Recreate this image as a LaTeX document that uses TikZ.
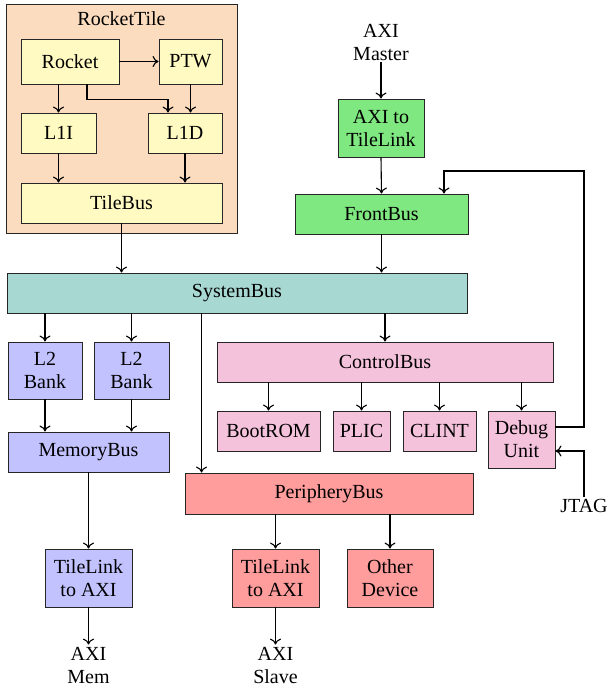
\documentclass[tikz,border=0pt]{standalone}
\usepackage{fontspec}
\setmainfont{Liberation Serif}
\usetikzlibrary{arrows.meta}
\definecolor{tilefill}{HTML}{FCDCBE}
\definecolor{corefill}{HTML}{FFF9C2}
\definecolor{frontfill}{HTML}{80E880}
\definecolor{sysfill}{HTML}{A8D8D2}
\definecolor{memfill}{HTML}{C2C2FF}
\definecolor{ctrlfill}{HTML}{F5C2DC}
\definecolor{perfill}{HTML}{FF9C9C}
\tikzset{
  blk/.style={draw=black!85, line width=0.9pt, inner sep=0pt, align=center,
    font=\fontsize{20}{23}\selectfont},
  lbl/.style={inner sep=2pt, align=center, font=\fontsize{20}{23}\selectfont},
  arr/.style={line width=1.1pt, -{To[length=6pt,width=11pt,line width=1.1pt]}},
}
\begin{document}
\begin{tikzpicture}[x=1pt,y=-1pt]
\useasboundingbox (0,0) rectangle (608,688);

% Rocket tile
\node[blk, fill=tilefill, minimum width=231, minimum height=229] (tile) at (121.5,118.5) {};
\node[lbl] (tiletitle) at (121.5,19) {RocketTile};
\node[blk, fill=corefill, minimum width=98, minimum height=45] (rocket) at (70,61.5) {Rocket};
\node[blk, fill=corefill, minimum width=63, minimum height=45] (ptw) at (190.5,61.5) {PTW};
\node[blk, fill=corefill, minimum width=75, minimum height=40] (l1i) at (58.5,133) {L1I};
\node[blk, fill=corefill, minimum width=74, minimum height=40] (l1d) at (185,133) {L1D};
\node[blk, fill=corefill, minimum width=201, minimum height=40] (tilebus) at (121.5,203) {TileBus};

% Front port
\node[lbl] (axim) at (381,42) {AXI\\Master};
\node[blk, fill=frontfill, minimum width=86, minimum height=58] (axi2tl) at (381,128) {AXI to\\TileLink};
\node[blk, fill=frontfill, minimum width=173, minimum height=40] (frontbus) at (381.5,214) {FrontBus};

% System bus
\node[blk, fill=sysfill, minimum width=460, minimum height=40] (sysbus) at (237,293) {SystemBus};

% Memory side
\node[blk, fill=memfill, minimum width=74, minimum height=57] (l2a) at (45,370.5) {L2\\Bank};
\node[blk, fill=memfill, minimum width=75, minimum height=57] (l2b) at (131.5,370.5) {L2\\Bank};
\node[blk, fill=memfill, minimum width=161, minimum height=40] (membus) at (88.5,452) {MemoryBus};
\node[blk, fill=memfill, minimum width=87, minimum height=58] (tl2axim) at (88.5,578) {TileLink\\to AXI};
\node[lbl] (aximem) at (88.5,665) {AXI\\Mem};

% Control bus
\node[blk, fill=ctrlfill, minimum width=336, minimum height=40] (ctrlbus) at (385,362) {ControlBus};
\node[blk, fill=ctrlfill, minimum width=103, minimum height=40] (bootrom) at (268.5,431) {BootROM};
\node[blk, fill=ctrlfill, minimum width=57, minimum height=40] (plic) at (361.5,431) {PLIC};
\node[blk, fill=ctrlfill, minimum width=73, minimum height=40] (clint) at (439.5,431) {CLINT};
\node[blk, fill=ctrlfill, minimum width=67, minimum height=57] (debug) at (521.5,439.5) {Debug\\Unit};
\node[lbl] (jtag) at (584,506) {JTAG};

% Periphery bus
\node[blk, fill=perfill, minimum width=288, minimum height=41] (perbus) at (329,493.5) {PeripheryBus};
\node[blk, fill=perfill, minimum width=87, minimum height=58] (tl2axis) at (275.5,578) {TileLink\\to AXI};
\node[blk, fill=perfill, minimum width=86, minimum height=58] (other) at (390,578) {Other\\Device};
\node[lbl] (axislave) at (275.5,665) {AXI\\Slave};

% Connections inside the tile
\draw[arr] (rocket.east) -- (ptw.west);
\draw[arr] (rocket.south -| l1i.north) -- (l1i.north);
\draw[arr] ([xshift=17pt]rocket.south) -- ++(0,15) -| ([xshift=-17pt]l1d.north);
\draw[arr] (ptw.south) -- (ptw.south |- l1d.north);
\draw[arr] (l1i.south) -- (l1i.south |- tilebus.north);
\draw[arr] (l1d.south) -- (l1d.south |- tilebus.north);

% Into the system bus
\draw[arr] (tilebus.south) -- (tilebus.south |- sysbus.north);
\draw[arr] (axim.south) -- (axi2tl.north);
\draw[arr] (axi2tl.south) -- (frontbus.north);
\draw[arr] (frontbus.south) -- (frontbus.south |- sysbus.north);

% Out of the system bus
\coordinate (perin) at ([xshift=17pt]perbus.north west);
\draw[arr] (sysbus.south -| l2a.north) -- (l2a.north);
\draw[arr] (sysbus.south -| l2b.north) -- (l2b.north);
\draw[arr] (sysbus.south -| perin) -- (perin);
\draw[arr] (sysbus.south -| ctrlbus.north) -- (ctrlbus.north);

% Memory path
\draw[arr] (l2a.south) -- (l2a.south |- membus.north);
\draw[arr] (l2b.south) -- (l2b.south |- membus.north);
\draw[arr] (membus.south -| tl2axim.north) -- (tl2axim.north);
\draw[arr] (tl2axim.south) -- (aximem.north);

% Control devices
\draw[arr] (ctrlbus.south -| bootrom.north) -- (bootrom.north);
\draw[arr] (ctrlbus.south -| plic.north) -- (plic.north);
\draw[arr] (ctrlbus.south -| clint.north) -- (clint.north);
\draw[arr] (ctrlbus.south -| debug.north) -- (debug.north);

% Debug loop back to the front bus, and JTAG in
\coordinate (loop) at (584,171);
\coordinate (fbin) at ([xshift=62.5pt]frontbus.north);
\draw[arr] ([yshift=12.5pt]debug.east) -| (loop) -| (fbin);
\draw[arr] (jtag.north) |- ([yshift=-11.5pt]debug.east);

% Periphery devices
\draw[arr] (perbus.south -| tl2axis.north) -- (tl2axis.north);
\draw[arr] (perbus.south -| other.north) -- (other.north);
\draw[arr] (tl2axis.south) -- (axislave.north);
\end{tikzpicture}
\end{document}
